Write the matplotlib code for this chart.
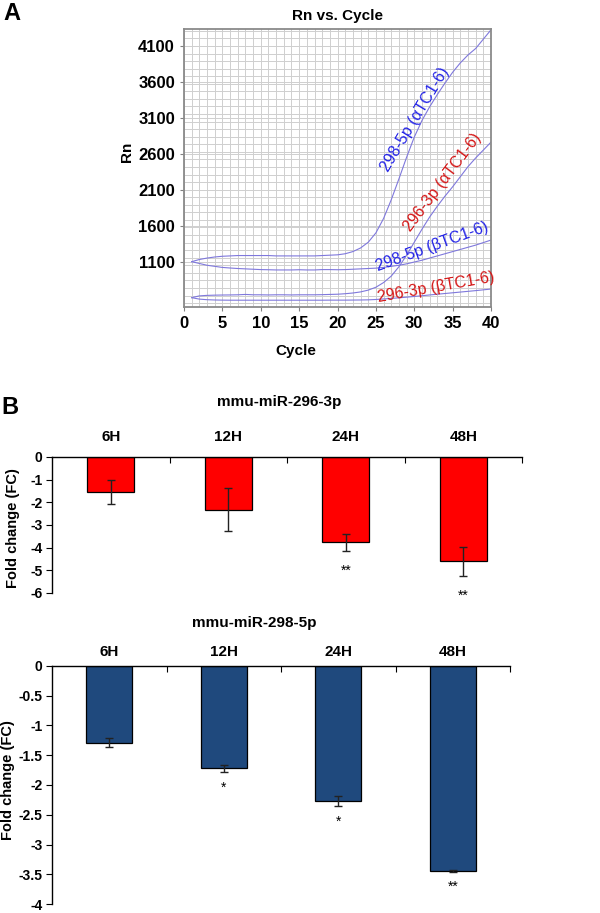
import matplotlib
matplotlib.use("Agg")
import matplotlib.pyplot as plt
import numpy as np
from matplotlib.ticker import MultipleLocator

plt.rcParams['font.family'] = ['Liberation Sans', 'DejaVu Sans']

# ---- panel A: amplification curves (Rn per cycle) ----
cycles = list(range(1, 41))
rn_298_alpha = [1100, 1130, 1150, 1165, 1175, 1180, 1185, 1185, 1185, 1185,
                1185, 1180, 1180, 1180, 1180, 1180, 1180, 1185, 1190, 1195,
                1210, 1240, 1290, 1370, 1500, 1700, 1960, 2250, 2550, 2830,
                3060, 3250, 3420, 3580, 3730, 3860, 3970, 4060, 4190, 4320]
rn_298_beta = [1100, 1075, 1050, 1035, 1020, 1012, 1005, 1000, 995, 990,
               988, 985, 985, 985, 988, 985, 985, 990, 990, 988,
               990, 995, 1000, 1005, 1010, 1020, 1035, 1050, 1070, 1095,
               1120, 1150, 1180, 1210, 1240, 1270, 1300, 1330, 1365, 1400]
rn_296_alpha = [600, 625, 632, 635, 637, 638, 640, 645, 640, 640,
                638, 640, 640, 638, 640, 640, 640, 642, 645, 648,
                655, 665, 680, 705, 745, 810, 900, 1030, 1190, 1370,
                1550, 1720, 1870, 2010, 2140, 2280, 2420, 2540, 2650, 2760]
rn_296_beta = [600, 580, 572, 568, 566, 565, 565, 565, 565, 565,
               565, 565, 565, 565, 565, 565, 565, 565, 566, 566,
               566, 567, 568, 570, 575, 582, 590, 598, 607, 617,
               627, 638, 648, 658, 668, 678, 688, 698, 709, 720]
rn_yticks = [1100, 1600, 2100, 2600, 3100, 3600, 4100]
cycle_ticks = [0, 5, 10, 15, 20, 25, 30, 35, 40]

# curve labels: text, colour, cycle, Rn, angle
curve_labels = [
    ("298-5p (\u03b1TC1-6)", "#2323e6", 30.1, 3070, 59),
    ("296-3p (\u03b1TC1-6)", "#d41515", 33.7, 2210, 53),
    ("298-5p (\u03b2TC1-6)", "#2323e6", 32.3, 1305, 20),
    ("296-3p (\u03b2TC1-6)", "#d41515", 32.8, 750, 10),
]

# ---- panel B: fold change ----
timepoints = ["6H", "12H", "24H", "48H"]
fc_296 = [-1.55, -2.33, -3.77, -4.61]
fc_296_err = [0.53, 0.94, 0.37, 0.66]
sig_296 = ["", "", "**", "**"]
fc_298 = [-1.29, -1.72, -2.27, -3.44]
fc_298_err = [0.075, 0.06, 0.085, 0.012]
sig_298 = ["", "*", "*", "**"]

fig = plt.figure(figsize=(6, 9.13), dpi=100)

# ================= panel A =================
axA = fig.add_axes([0.3067, 0.6637, 0.5117, 0.3045])
line_col = "#7f78dc"
for rn in (rn_298_alpha, rn_298_beta, rn_296_alpha, rn_296_beta):
    axA.plot(cycles, rn, color=line_col, lw=0.8)
axA.set_xlim(0, 40)
axA.set_ylim(470, 4330)
axA.set_xticks(cycle_ticks)
axA.set_yticks(rn_yticks)
axA.xaxis.set_minor_locator(MultipleLocator(1))
axA.yaxis.set_minor_locator(MultipleLocator(105))
axA.grid(which='both', color='#cfcfcf', lw=0.7)
axA.set_axisbelow(True)
axA.tick_params(which='minor', length=0)
axA.tick_params(which='major', length=3, color='#808080')
for lab in axA.get_xticklabels() + axA.get_yticklabels():
    lab.set_fontweight('bold')
    lab.set_fontsize(12)
for s in axA.spines.values():
    s.set_color('#8a8a8a')
    s.set_linewidth(1.3)
for txt, col, cx, cy, ang in curve_labels:
    axA.text(cx, cy, txt, color=col, fontsize=11.5, rotation=ang,
             ha='center', va='center', rotation_mode='anchor')

fig.text(337 / 600, 1 - 16 / 913, "Rn vs. Cycle", ha='center', va='center',
         fontsize=11, fontweight='bold')
fig.text(127 / 600, 1 - 152 / 913, "Rn", ha='center', va='center',
         fontsize=11, fontweight='bold', rotation=90)
fig.text(296 / 600, 1 - 351 / 913, "Cycle", ha='center', va='center',
         fontsize=11, fontweight='bold')
fig.text(12 / 600, 1 - 13 / 913, "A", ha='center', va='center',
         fontsize=17, fontweight='bold')
fig.text(10 / 600, 1 - 407 / 913, "B", ha='center', va='center',
         fontsize=17, fontweight='bold')


def bar_panel(ax, vals, errs, sigs, color, ylim, ystep, title, title_x, title_y,
              cat_pad, star_off, ylab_x, ylab_y):
    x = np.arange(len(timepoints)) + 0.5
    ax.bar(x, vals, width=0.4, color=color, edgecolor='black', lw=0.9, zorder=2)
    ax.errorbar(x, vals, yerr=errs, fmt='none', ecolor='#222222',
                elinewidth=1.0, capsize=3, capthick=1.0, zorder=3)
    ax.set_xlim(0, len(timepoints))
    ax.set_ylim(ylim, 0)
    ticks = np.arange(0, ylim - ystep / 2, -ystep)
    ax.set_yticks(ticks)
    ax.set_yticklabels(['%g' % v for v in ticks], fontweight='bold', fontsize=10)
    ax.spines['bottom'].set_visible(False)
    ax.spines['right'].set_visible(False)
    ax.spines['top'].set_linewidth(1.0)
    ax.spines['left'].set_linewidth(1.0)
    ax.xaxis.tick_top()
    ax.set_xticks(range(1, len(timepoints) + 1))
    ax.set_xticklabels([])
    ax.tick_params(axis='x', direction='in', length=4)
    ax.tick_params(axis='y', direction='out', length=4, pad=3)
    for i, t in enumerate(timepoints):
        ax.annotate(t, (x[i], 1.0), xycoords=('data', 'axes fraction'),
                    xytext=(0, cat_pad), textcoords='offset points',
                    ha='center', va='bottom', fontsize=11, fontweight='bold')
    for xi, v, e, s in zip(x, vals, errs, sigs):
        if s:
            ax.annotate(s, (xi, v - e), xytext=(0, star_off), textcoords='offset points',
                        ha='center', va='baseline', fontsize=10)
    fig.text(ylab_x / 600, 1 - ylab_y / 913, "Fold change (FC)", ha='center',
             va='center', rotation=90, fontsize=10.5, fontweight='bold')
    fig.text(title_x / 600, 1 - title_y / 913, title, ha='center', va='center',
             fontsize=11, fontweight='bold')


axB1 = fig.add_axes([0.0867, 0.3505, 0.7833, 0.149])
bar_panel(axB1, fc_296, fc_296_err, sig_296, '#ff0000', -6, 1,
          "mmu-miR-296-3p", 279, 402, 9, -17, 13, 528)

axB2 = fig.add_axes([0.0867, 0.0095, 0.7633, 0.2614])
bar_panel(axB2, fc_298, fc_298_err, sig_298, '#1f497d', -4, 0.5,
          "mmu-miR-298-5p", 254, 623, 5, -14, 8, 780)

fig.savefig("out.png", dpi=100)
